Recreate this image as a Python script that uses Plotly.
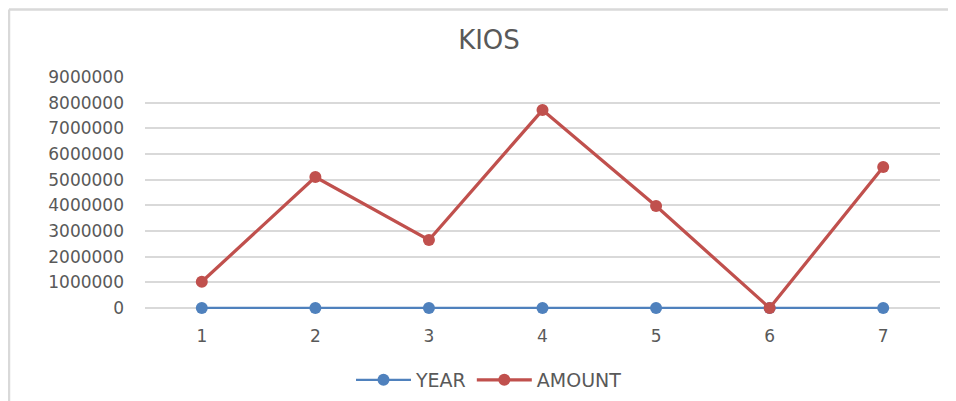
"""KIOS line chart: YEAR vs AMOUNT by category."""

import plotly.graph_objects as go

BLUE = "#4f81bd"
RED = "#c0504d"
TEXT = "#595959"
GRID = "#d9d9d9"

categories = [1, 2, 3, 4, 5, 6, 7]
year_values = [0, 0, 0, 0, 0, 0, 0]
amount_values = [1020000, 5100000, 2650000, 7710000, 3970000, 0, 5490000]
y_ticks = [0, 1000000, 2000000, 3000000, 4000000, 5000000, 6000000, 7000000, 8000000, 9000000]

# the page body keeps its 8px margin, so the figure is sized to fill the rest
W, H = 948, 393
L, R, T, B = 137, 16, 69, 91
PW, PH = W - L - R, H - T - B

fig = go.Figure()
fig.add_trace(go.Scatter(
    x=categories, y=year_values, mode="lines+markers", name="YEAR",
    line=dict(color=BLUE, width=2.25), marker=dict(color=BLUE, size=12),
    cliponaxis=False,
))
fig.add_trace(go.Scatter(
    x=categories, y=amount_values, mode="lines+markers", name="AMOUNT",
    line=dict(color=RED, width=3.25), marker=dict(color=RED, size=12),
    cliponaxis=False,
))

fig.update_layout(
    width=W, height=H,
    margin=dict(l=L, r=R, t=T, b=B, autoexpand=False),
    paper_bgcolor="white", plot_bgcolor="white",
    font=dict(family="DejaVu Sans, sans-serif", size=17, color=TEXT),
    title=dict(text="KIOS", x=481 / W, xanchor="center", y=1 - 32 / H, yanchor="middle",
               font=dict(size=26, color=TEXT)),
    showlegend=True,
    legend=dict(orientation="h", xref="container", x=481 / W, xanchor="center",
                yref="container", y=(H - 372) / H, yanchor="middle",
                font=dict(size=19, color=TEXT), itemwidth=55, bgcolor="rgba(0,0,0,0)"),
    shapes=[
        dict(type="line", xref="paper", yref="paper", x0=(1 - L) / PW, x1=1.1,
             y0=(PH + T - 1.5) / PH, y1=(PH + T - 1.5) / PH, line=dict(color=GRID, width=2.5)),
        dict(type="line", xref="paper", yref="paper", x0=(1 - L) / PW, x1=(1 - L) / PW,
             y0=(PH + T - 1.5) / PH, y1=-0.6, line=dict(color=GRID, width=2.5)),
    ],
)
fig.update_xaxes(
    type="linear", range=[0.5, 7.5], tickvals=categories, ticktext=[str(c) for c in categories],
    showgrid=False, zeroline=False, showline=False, ticks="", ticklabelstandoff=14,
)
# a little room below zero so the YEAR line is not clipped at the plot edge
fig.update_yaxes(
    range=[-80000, 9000000], tickvals=y_ticks, ticktext=[str(v) for v in y_ticks],
    showgrid=True, gridcolor=GRID, gridwidth=1.5, zeroline=False, showline=False, ticks="",
    ticklabelstandoff=20,
)

fig.write_html("out.html")
